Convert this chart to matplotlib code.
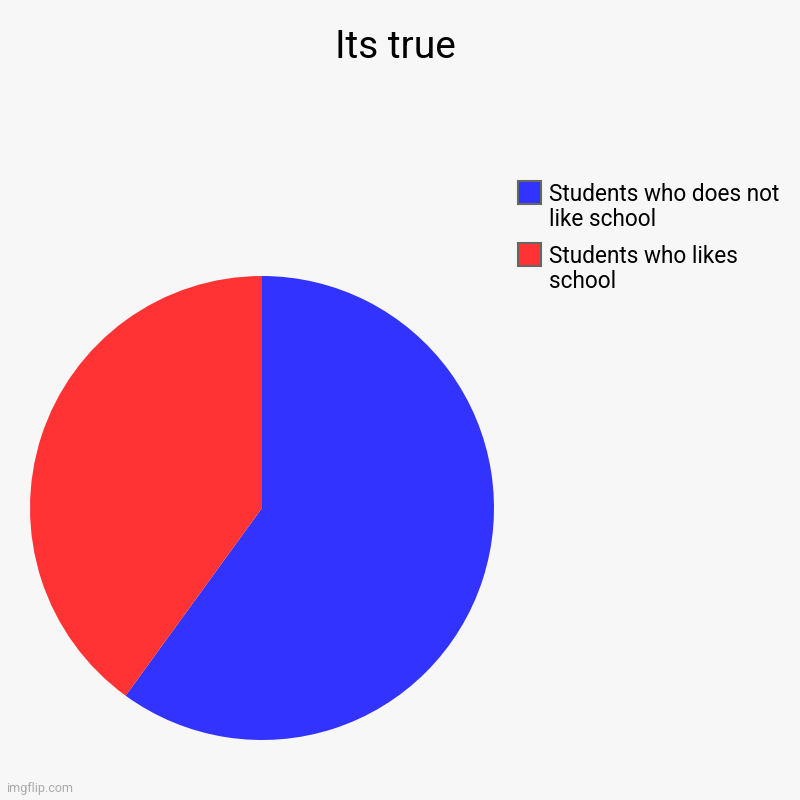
import matplotlib.pyplot as plt
from matplotlib.patches import Rectangle

labels = ['Students who does not\nlike school', 'Students who likes\nschool']
values = [60, 40]
colors = ['#3333ff', '#ff3333']

plt.rcParams['font.family'] = ['Roboto', 'DejaVu Sans']

W = H = 800
fig = plt.figure(figsize=(8, 8), dpi=100, facecolor='#f7f7f7')
ax = fig.add_axes([0.0375, 0.075, 0.58, 0.58])
ax.set_facecolor('#f7f7f7')
ax.pie(values, colors=colors, startangle=90, counterclock=False,
       radius=1, wedgeprops={'linewidth': 0})
ax.set_xlim(-1, 1)
ax.set_ylim(-1, 1)
ax.set_aspect('equal')

fig.text(395 / W, 1 - 47 / H, 'Its true', ha='center', va='center', fontsize=28, color='black')

# legend, drawn by hand so the box sits on the first line like the original
for i, (lab, c) in enumerate(zip(labels, colors)):
    top = 181 + i * 62
    fig.patches.append(Rectangle((518 / W, 1 - (top + 23) / H), 23 / W, 23 / H,
                                 transform=fig.transFigure, facecolor=c,
                                 edgecolor='#666666', linewidth=1.5))
    for j, line in enumerate(lab.split('\n')):
        fig.text(549 / W, 1 - (top + 20 + j * 25) / H, line, ha='left', va='baseline',
                 fontsize=16.3, color='black')

fig.text(0.008, 0.01, 'imgflip.com', fontsize=9, color='#aaaaaa')

fig.savefig('out.png', dpi=100, facecolor=fig.get_facecolor())
